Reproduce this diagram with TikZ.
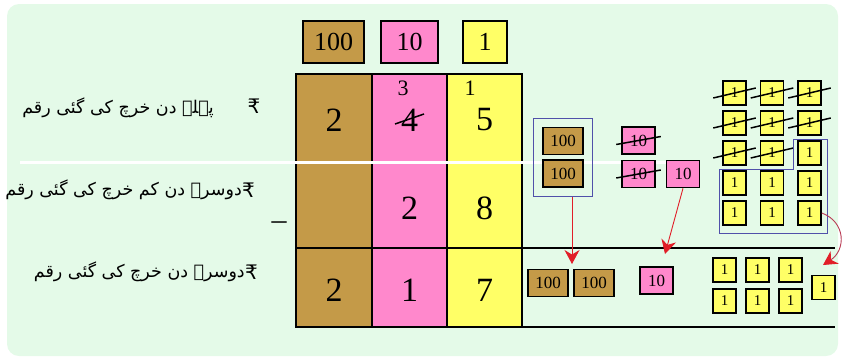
\documentclass[tikz,border=0pt]{standalone}
\usepackage{fontspec}
\setmainfont{Liberation Serif}
\newfontfamily\urdufont[Script=Arabic]{DejaVu Sans}
\TeXXeTstate=1
\usetikzlibrary{arrows.meta,positioning,fit}

\definecolor{bgmint}{RGB}{228,250,232}
\definecolor{hundcol}{RGB}{196,154,72}
\definecolor{tencol}{RGB}{255,136,204}
\definecolor{onecol}{RGB}{255,255,102}
\definecolor{framecol}{RGB}{80,80,170}
\definecolor{arrowred}{RGB}{225,30,40}
\definecolor{curvered}{RGB}{185,60,85}

\tikzset{
  note/.style={draw, line width=1.6pt, inner sep=0pt},
  hund/.style={note, fill=hundcol, minimum width=40pt, minimum height=27pt, font=\fontsize{17}{17}\selectfont},
  ten/.style={note, fill=tencol, minimum width=33pt, minimum height=27pt, font=\fontsize{17}{17}\selectfont},
  coin/.style={note, fill=onecol, minimum width=23pt, minimum height=24pt, font=\fontsize{15}{15}\selectfont},
  headbox/.style={draw, line width=1.5pt, inner sep=0pt, minimum height=42pt, font=\fontsize{26}{26}\selectfont},
  digit/.style={font=\fontsize{34}{34}\selectfont},
  carry/.style={font=\fontsize{22}{22}\selectfont},
  rowtext/.style={anchor=east, inner sep=0pt, font=\urdufont\fontsize{17.5}{21}\selectfont},
  rupee/.style={inner sep=0pt, font=\urdufont\fontsize{20}{20}\selectfont},
  frame/.style={draw=framecol, line width=0.8pt, inner sep=8.5pt},
  cut/.style={line width=1.5pt},
  moveto/.style={draw=arrowred, line width=0.9pt, -{Stealth[length=14pt,width=15pt]}},
}

\begin{document}
\begin{tikzpicture}[x=1pt, y=-1pt]
\useasboundingbox (0,0) rectangle (843,360);
\fill[bgmint, rounded corners=12pt] (7,4) rectangle (838,356);

% place value headings
\node[headbox, fill=hundcol, minimum width=61pt] (h100) at (333.5,42) {100};
\node[headbox, fill=tencol, minimum width=57pt] (h10) at (409.5,42) {10};
\node[headbox, fill=onecol, minimum width=44pt] (h1) at (485,42) {1};

% the table
\fill[hundcol] (296,74) rectangle (372,327);
\fill[tencol] (372,74) rectangle (447,327);
\fill[onecol] (447,74) rectangle (522,327);
\draw[line width=1.5pt] (296,74) rectangle (522,327);
\draw[line width=1.5pt] (372,74) -- (372,327) (447,74) -- (447,327);
\draw[line width=1.5pt] (296,248) -- (835,248);
\draw[line width=1.5pt] (522,327) -- (835,327);
\draw[white, line width=3pt] (20,162) -- (700,162);

\node[digit] (a1) at (334,120) {2};
\node[digit] (a2) at (409.5,120) {4};
\node[digit] (a3) at (484.5,120) {5};
\node[carry] (c2) at (403,88) {3};
\node[carry] (c3) at (470,88) {1};
\draw[cut] (395,124) -- (424,114);
\node[digit] (b2) at (409.5,208) {2};
\node[digit] (b3) at (484.5,208) {8};
\node[digit] (d1) at (334,290) {2};
\node[digit] (d2) at (409.5,290) {1};
\node[digit] (d3) at (484.5,290) {7};
\node[font=\fontsize{30}{30}\selectfont] (minus) at (279,226) {--};

% row labels
\node[rowtext] (r1) at (214,108) {\beginR پہلے دن خرچ کی گئی رقم\endR};
\node[rupee] (p1) at (254,106) {₹};
\node[rowtext] (r2) at (242,190) {\beginR دوسرے دن کم خرچ کی گئی رقم\endR};
\node[rupee, right=0pt of r2.east] (p2) {₹};
\node[rowtext] (r3) at (245,272) {\beginR دوسرے دن خرچ کی گئی رقم\endR};
\node[rupee, right=0pt of r3.east] (p3) {₹};

% hundreds
\node[hund] (m1) at (563,141) {100};
\node[hund] (m2) at (563,173.5) {100};
\node[frame, fit=(m1)(m2)] (pair) {};
\node[hund] (n1) at (548,283) {100};
\node[hund] (n2) at (594,283) {100};
\coordinate (hdrop) at (572,264);
\draw[moveto] (pair.south -| hdrop) -- (hdrop);

% tens
\node[ten] (t1) at (638.5,140.5) {10};
\node[ten] (t2) at (638.5,174) {10};
\node[ten] (t3) at (683,174) {10};
\foreach \t in {t1,t2}
  \draw[cut] ([shift={(-5,4)}]\t.west) -- ([shift={(5,-4)}]\t.east);
\node[ten] (u1) at (656.5,280.5) {10};
\coordinate (tdrop) at (665,254);
\draw[moveto] (t3.south) -- (tdrop);

% ones
\foreach \r in {0,...,4}
  \foreach \c in {0,1,2}
    \node[coin] (g\r\c) at (734.5+37.5*\c, 93+30*\r) {1};
\foreach \g in {g00,g01,g02,g10,g11,g12,g20,g21}
  \draw[cut] ([shift={(-9,5)}]\g.west) -- ([shift={(9,-5)}]\g.east);
\draw[framecol, line width=0.8pt] (719,169) -- (793,169) -- (793,139) -- (827,139) -- (827,233) -- (719,233) -- cycle;
\foreach \r in {0,1}
  \foreach \c in {0,1,2}
    \node[coin] (k\r\c) at (724.5+33*\c, 270+31*\r) {1};
\node[coin] (kx) at (823.5,287.5) {1};
\coordinate (odrop) at (823,265);
\draw[moveto, draw=curvered, -{Stealth[length=14pt,width=15pt,color=arrowred]}] (g42.east) .. controls (846,222) and (846,250) .. (odrop);
\end{tikzpicture}
\end{document}
